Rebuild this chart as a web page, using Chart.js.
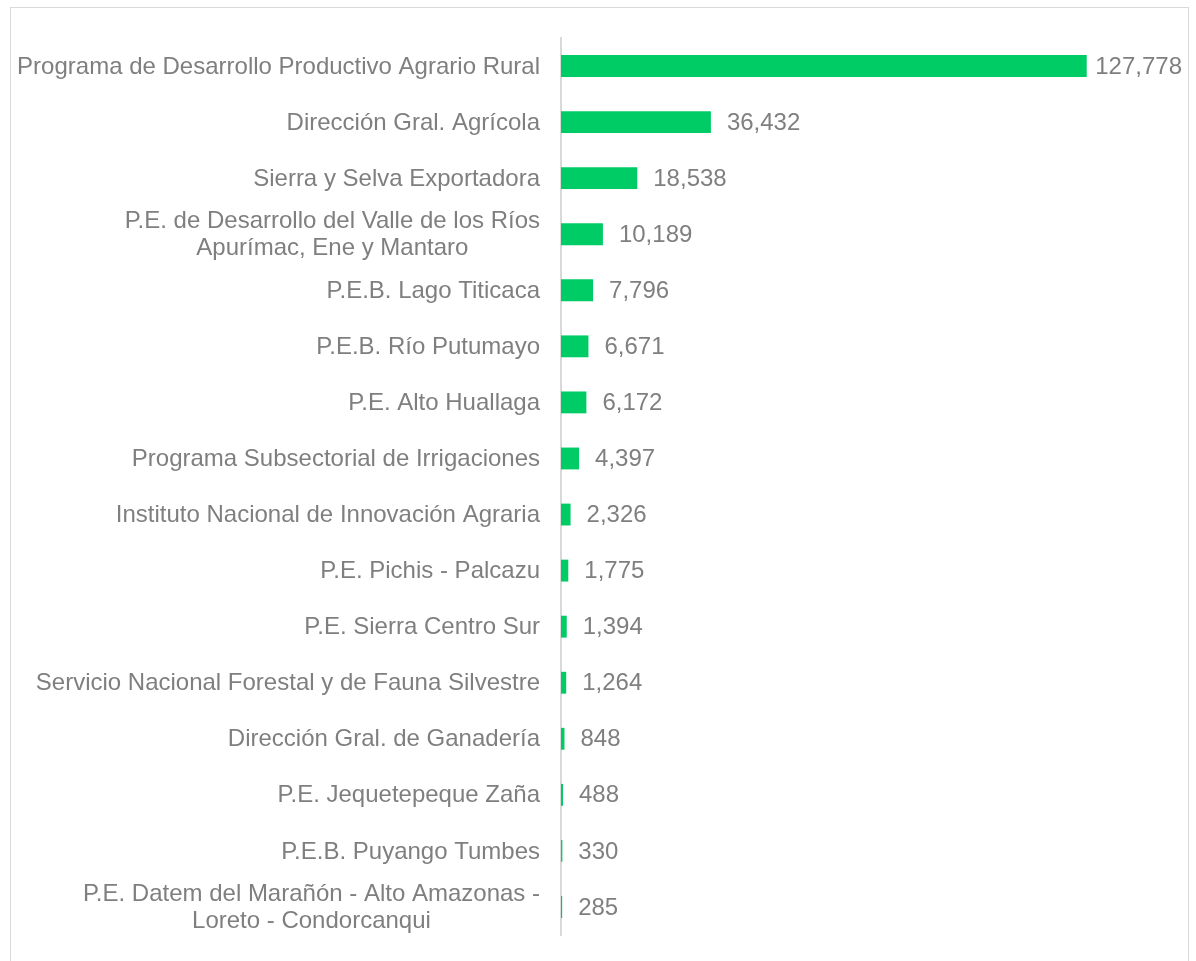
<!DOCTYPE html>
<html>
<head>
<meta charset="utf-8">
<script src="https://cdn.jsdelivr.net/npm/chart.js@4"></script>
<style>
  html, body { margin: 0; padding: 0; background: #ffffff; }
  #wrap { position: relative; width: 1196px; height: 961px; overflow: hidden; }
  #frame { position: absolute; left: 10px; top: 7px; width: 1179px; height: 980px; border: 1.5px solid #d9d9d9; box-sizing: border-box; }
  canvas { position: absolute; left: 0; top: 0; }
</style>
</head>
<body>
<div id="wrap">
  <div id="frame"></div>
  <canvas id="c" width="1196" height="961"></canvas>
</div>
<script>
const categories = [
  ["Programa de Desarrollo Productivo Agrario Rural"],
  ["Dirección Gral. Agrícola"],
  ["Sierra y Selva Exportadora"],
  ["P.E. de Desarrollo del Valle de los Ríos", "Apurímac, Ene y Mantaro"],
  ["P.E.B. Lago Titicaca"],
  ["P.E.B. Río Putumayo"],
  ["P.E. Alto Huallaga"],
  ["Programa Subsectorial de Irrigaciones"],
  ["Instituto Nacional de Innovación Agraria"],
  ["P.E. Pichis - Palcazu"],
  ["P.E. Sierra Centro Sur"],
  ["Servicio Nacional Forestal y de Fauna Silvestre"],
  ["Dirección Gral. de Ganadería"],
  ["P.E. Jequetepeque Zaña"],
  ["P.E.B. Puyango Tumbes"],
  ["P.E. Datem del Marañón - Alto Amazonas -", "Loreto - Condorcanqui"]
];
const values = [127778, 36432, 18538, 10189, 7796, 6671, 6172, 4397, 2326, 1775, 1394, 1264, 848, 488, 330, 285];

const FONT = '24px "Liberation Sans", Arial, sans-serif';
const TEXT_COLOR = '#7f7f7f';

const labelPlugin = {
  id: 'customLabels',
  afterDraw(chart) {
    const ctx = chart.ctx;
    const y = chart.scales.y;
    const meta = chart.getDatasetMeta(0);
    ctx.save();
    ctx.font = FONT;
    ctx.fillStyle = TEXT_COLOR;
    ctx.textBaseline = 'middle';
    const lineH = 27;
    categories.forEach((lines, i) => {
      const cy = y.getPixelForValue(i);
      const rightX = chart.chartArea.left - 21;
      const maxW = Math.max(...lines.map(l => ctx.measureText(l).width));
      const startY = cy - (lines.length - 1) * lineH / 2;
      ctx.textAlign = 'center';
      lines.forEach((l, k) => {
        ctx.fillText(l, rightX - maxW / 2, startY + k * lineH + 1);
      });
      // value label
      const bar = meta.data[i];
      const txt = values[i].toLocaleString('en-US');
      const w = ctx.measureText(txt).width;
      const lx = Math.min(bar.x + 16, chart.width - 14 - w);
      ctx.textAlign = 'left';
      ctx.fillText(txt, lx, cy + 1);
    });
    ctx.restore();
  }
};

new Chart(document.getElementById('c'), {
  type: 'bar',
  data: {
    labels: categories.map(l => l.join(' ')),
    datasets: [{
      data: values,
      backgroundColor: '#00cc66',
      borderWidth: 0,
      categoryPercentage: 1,
      barPercentage: 0.39
    }]
  },
  options: {
    indexAxis: 'y',
    responsive: false,
    animation: false,
    events: [],
    layout: { padding: { top: 38, bottom: 26, left: 0, right: 59 } },
    plugins: { legend: { display: false }, tooltip: { enabled: false } },
    scales: {
      x: { display: false, min: 0, max: 140000 },
      y: {
        display: true,
        grid: { display: false, drawTicks: false },
        border: { display: true, color: '#d9d9d9', width: 2 },
        ticks: { display: false },
        afterFit(scale) { scale.width = 561; }
      }
    }
  },
  plugins: [labelPlugin]
});
</script>
</body>
</html>
